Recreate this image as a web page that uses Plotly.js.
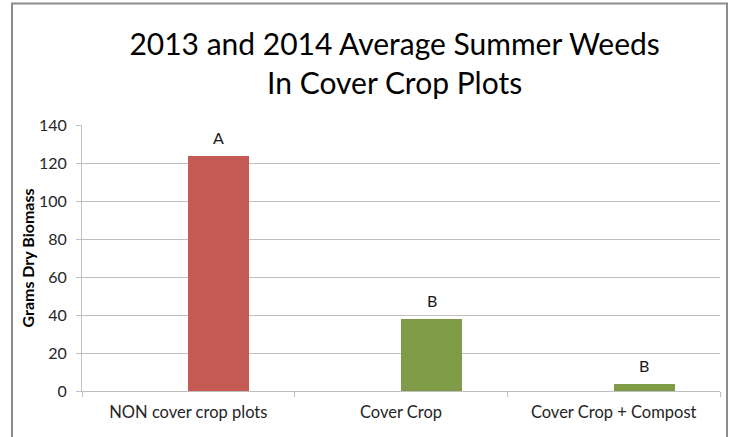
<!DOCTYPE html>
<html>
<head>
<meta charset="utf-8">
<script src="https://cdn.plot.ly/plotly-3.0.1.min.js"></script>
<style>
  html, body { margin: 0; padding: 0; background: #fff; }
  #chart { width: 731px; height: 437px; }
</style>
</head>
<body>
<div id="chart"></div>
<script>
// Average summer weed biomass per treatment, 2013-2014
const categories = ['NON cover crop plots', 'Cover Crop', 'Cover Crop + Compost'];
const biomass = [123.5, 38, 3.5];
const groupLetters = ['A', 'B', 'B'];
const barColors = ['#C55A55', '#7F9B48', '#7F9B48'];
const yTicks = [0, 20, 40, 60, 80, 100, 120, 140];

const FONT = 'Lato, "Open Sans", sans-serif';
const barWidth = 0.287;

const trace = {
  type: 'bar',
  x: categories,
  y: biomass,
  width: barWidth,
  offset: 0,
  marker: { color: barColors, line: { width: 0 } },
  hoverinfo: 'x+y'
};

// significance letters sit just above each bar
const letterNotes = categories.map((c, i) => ({
  x: i + barWidth / 2,
  y: biomass[i],
  xref: 'x', yref: 'y',
  text: groupLetters[i],
  showarrow: false,
  yanchor: 'bottom',
  yshift: 7,
  font: { family: FONT, size: 16, color: '#1a1a1a' }
}));

const layout = {
  width: 731,
  height: 437,
  margin: { l: 82, r: 11, t: 125, b: 46 },
  paper_bgcolor: '#ffffff',
  plot_bgcolor: '#ffffff',
  showlegend: false,
  bargap: 0,
  title: {
    text: '2013 and 2014 Average Summer Weeds<br>In Cover Crop Plots',
    font: { family: FONT, size: 30, color: '#000000' },
    xref: 'paper', x: 0.49, xanchor: 'center',
    yref: 'container', y: 0.875, yanchor: 'top'
  },
  xaxis: {
    type: 'category',
    showgrid: false,
    zeroline: false,
    showline: true,
    linecolor: '#BFBFBF',
    linewidth: 1,
    ticks: 'outside',
    tickson: 'boundaries',
    ticklen: 5,
    tickcolor: '#BFBFBF',
    ticklabelstandoff: 6,
    tickfont: { family: FONT, size: 16.5, color: '#262626' }
  },
  yaxis: {
    range: [0, 140],
    tickvals: yTicks,
    ticktext: yTicks.map(String),
    showgrid: true,
    gridcolor: '#C0C0C0',
    gridwidth: 1,
    zeroline: false,
    showline: true,
    linecolor: '#BFBFBF',
    linewidth: 1,
    ticks: 'outside',
    ticklen: 5,
    tickcolor: '#BFBFBF',
    ticklabelstandoff: 6,
    tickfont: { family: FONT, size: 16, color: '#262626' },
    title: {
      text: '<b>Grams Dry Biomass</b>',
      font: { family: FONT, size: 16, color: '#000000' },
      standoff: 0
    }
  },
  annotations: letterNotes,
  shapes: [{
    type: 'rect',
    xref: 'paper', yref: 'paper',
    x0: -0.1097, x1: 1.0110,
    y0: -0.19, y1: 1.4568,
    line: { color: '#8C8C8C', width: 2 },
    fillcolor: 'rgba(0,0,0,0)',
    layer: 'below'
  }]
};

Plotly.newPlot('chart', [trace], layout, { displayModeBar: false, staticPlot: true });
</script>
</body>
</html>
